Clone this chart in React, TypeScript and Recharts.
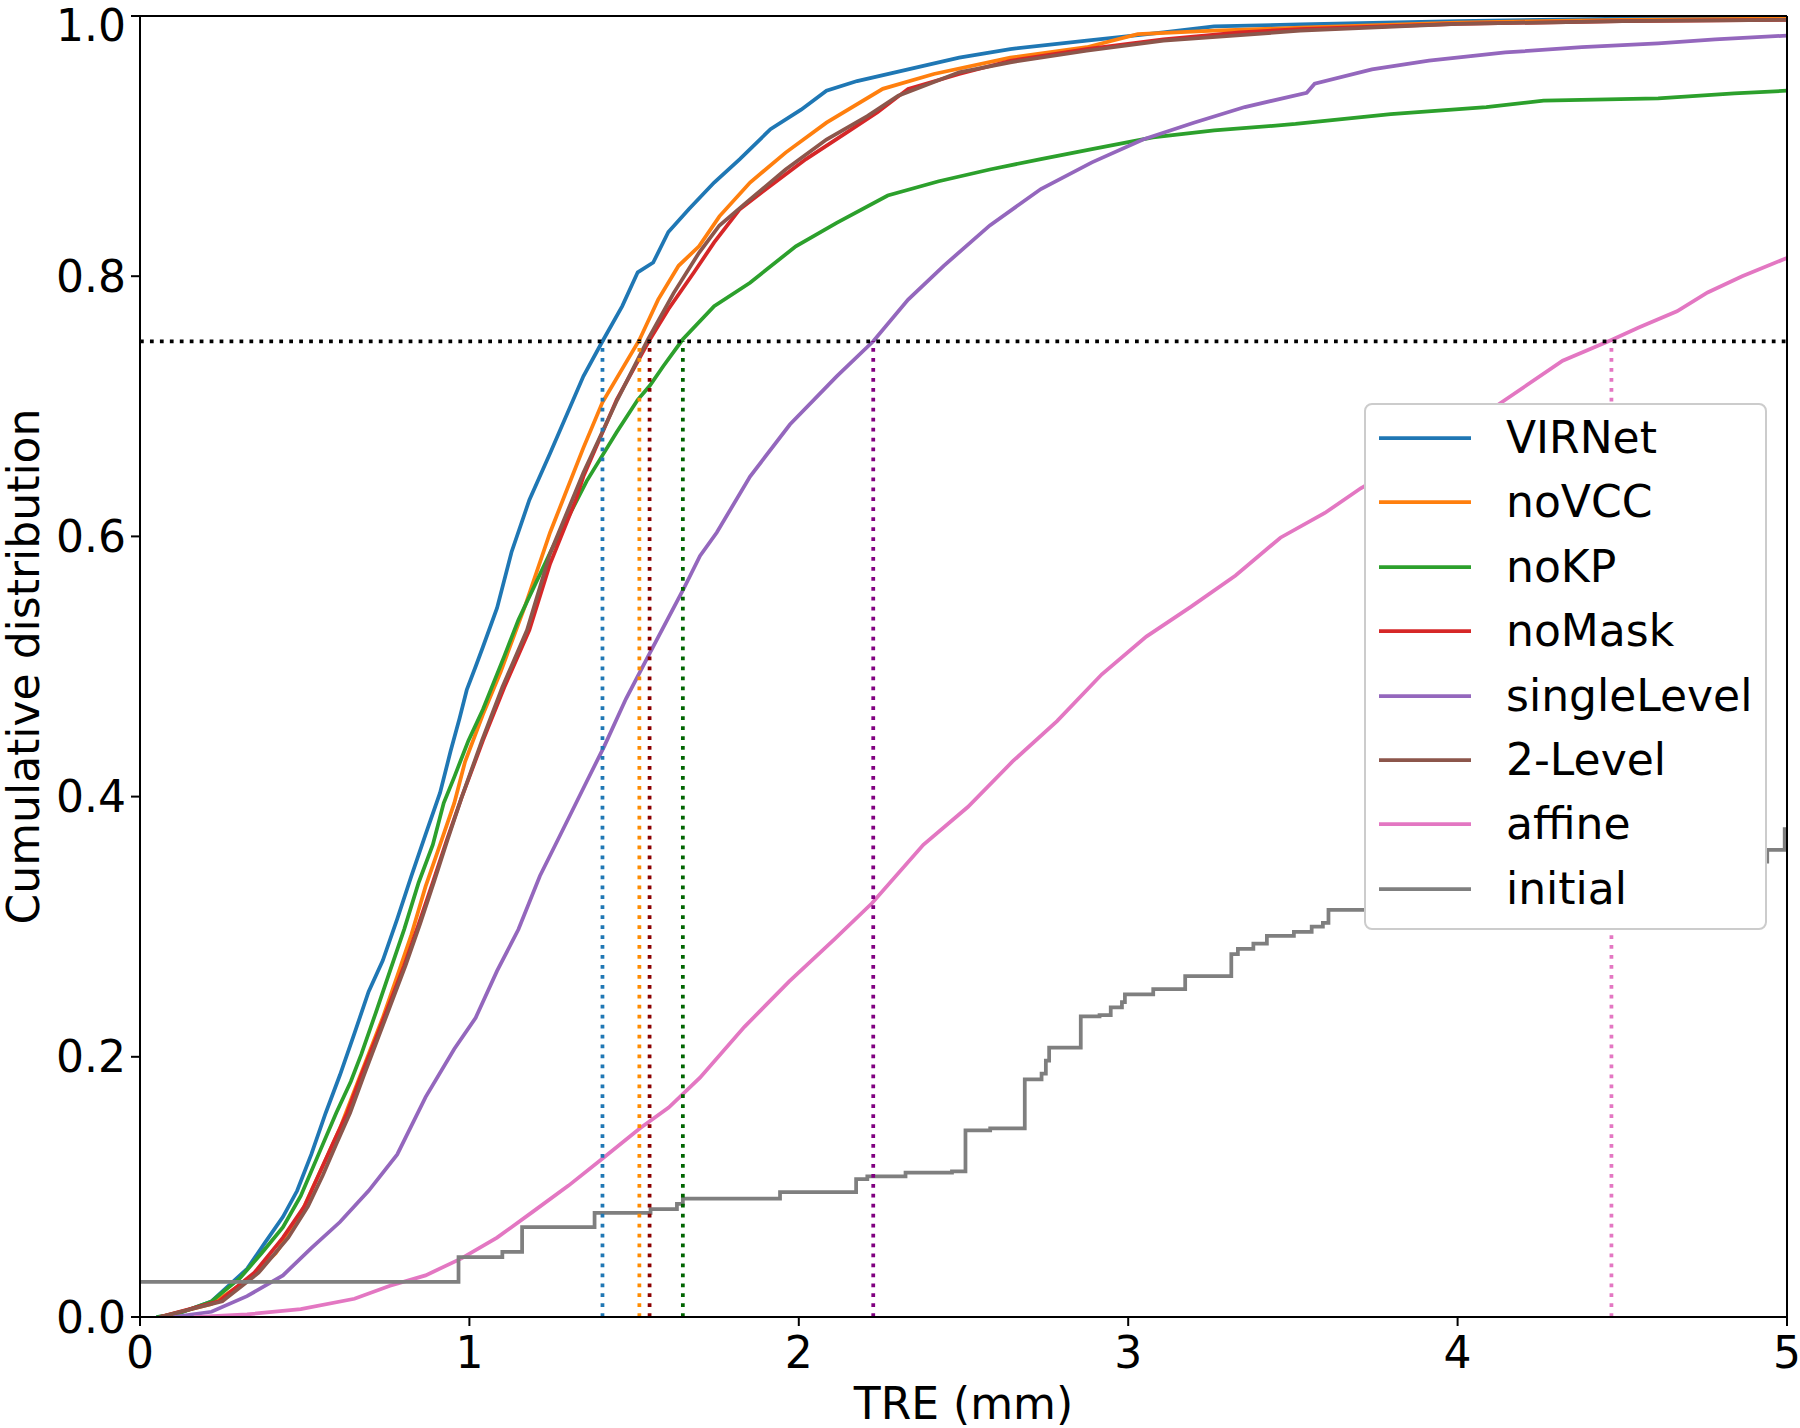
import { Label, Legend, Line, LineChart, ReferenceLine, XAxis, YAxis } from "recharts";

type Pt = [number, number];

// TRE (mm) -> cumulative fraction
const VIRNET: Pt[] = [
    [0.05, 0], [0.108, 0.002], [0.217, 0.012], [0.325, 0.037], [0.379, 0.057], [0.434, 0.077],
    [0.477, 0.097], [0.52, 0.125], [0.564, 0.157], [0.607, 0.186], [0.651, 0.218], [0.694, 0.25],
    [0.737, 0.274], [0.781, 0.306], [0.824, 0.339], [0.867, 0.371], [0.911, 0.403], [0.943, 0.435],
    [0.97, 0.46], [0.992, 0.482], [1.019, 0.5], [1.041, 0.515], [1.084, 0.545], [1.128, 0.588],
    [1.182, 0.628], [1.245, 0.664], [1.346, 0.723], [1.404, 0.75], [1.464, 0.777], [1.511, 0.803],
    [1.558, 0.8105], [1.604, 0.834], [1.666, 0.8515], [1.743, 0.872], [1.821, 0.89], [1.914, 0.913],
    [2.007, 0.928], [2.084, 0.9426], [2.177, 0.95], [2.332, 0.959], [2.487, 0.968], [2.642, 0.9746],
    [2.874, 0.981], [3.107, 0.9875], [3.261, 0.992], [3.522, 0.9935], [4.0, 0.996], [4.5, 0.998], [5.0, 0.999],
];

const NOVCC: Pt[] = [
    [0.06, 0], [0.217, 0.01], [0.325, 0.028], [0.412, 0.049], [0.477, 0.073], [0.52, 0.097],
    [0.564, 0.121], [0.607, 0.145], [0.651, 0.174], [0.694, 0.202], [0.737, 0.23], [0.781, 0.262],
    [0.824, 0.294], [0.867, 0.331], [0.911, 0.363], [0.954, 0.395], [0.987, 0.427], [1.041, 0.463],
    [1.095, 0.496], [1.171, 0.548], [1.245, 0.603], [1.29, 0.632], [1.346, 0.668], [1.404, 0.703],
    [1.516, 0.751], [1.573, 0.782], [1.635, 0.808], [1.697, 0.823], [1.759, 0.846], [1.852, 0.872],
    [1.96, 0.895], [2.084, 0.918], [2.255, 0.944], [2.41, 0.9554], [2.642, 0.968], [2.874, 0.976],
    [3.029, 0.986], [3.261, 0.9887], [3.522, 0.991], [4.0, 0.995], [4.5, 0.997], [5.0, 0.998],
];

const NOKP: Pt[] = [
    [0.05, 0], [0.108, 0.002], [0.217, 0.012], [0.304, 0.03], [0.369, 0.049], [0.434, 0.069],
    [0.488, 0.093], [0.542, 0.125], [0.596, 0.157], [0.64, 0.181], [0.672, 0.202], [0.716, 0.234],
    [0.759, 0.266], [0.802, 0.298], [0.846, 0.334], [0.889, 0.363], [0.922, 0.395], [0.954, 0.415],
    [0.997, 0.443], [1.041, 0.467], [1.106, 0.508], [1.149, 0.536], [1.25, 0.59], [1.356, 0.6425],
    [1.396, 0.659], [1.447, 0.68], [1.511, 0.705], [1.548, 0.716], [1.589, 0.731], [1.648, 0.7515],
    [1.743, 0.777], [1.852, 0.795], [1.991, 0.823], [2.115, 0.841], [2.27, 0.862], [2.425, 0.873],
    [2.58, 0.882], [2.735, 0.89], [2.89, 0.8977], [3.075, 0.9067], [3.261, 0.912], [3.508, 0.917],
    [3.797, 0.9246], [4.087, 0.93], [4.261, 0.935], [4.609, 0.9367], [4.84, 0.9405], [5.0, 0.9426],
];

const NOMASK: Pt[] = [
    [0.06, 0], [0.239, 0.012], [0.347, 0.034], [0.434, 0.061], [0.499, 0.085], [0.542, 0.109],
    [0.585, 0.133], [0.629, 0.157], [0.672, 0.186], [0.716, 0.214], [0.759, 0.242], [0.802, 0.27],
    [0.846, 0.302], [0.889, 0.334], [0.932, 0.367], [0.976, 0.399], [1.041, 0.443], [1.106, 0.484],
    [1.182, 0.528], [1.245, 0.579], [1.323, 0.628], [1.346, 0.646], [1.447, 0.705], [1.547, 0.751],
    [1.604, 0.7746], [1.682, 0.803], [1.743, 0.826], [1.821, 0.8515], [1.914, 0.8695], [2.022, 0.89],
    [2.146, 0.9105], [2.239, 0.926], [2.332, 0.944], [2.487, 0.9554], [2.642, 0.9656], [2.874, 0.9746],
    [3.107, 0.982], [3.339, 0.9875], [3.522, 0.99], [4.0, 0.994], [4.5, 0.996], [5.0, 0.997],
];

const SINGLE_LEVEL: Pt[] = [
    [0.1, 0], [0.217, 0.004], [0.325, 0.016], [0.434, 0.032], [0.52, 0.053], [0.607, 0.073],
    [0.694, 0.097], [0.781, 0.125], [0.867, 0.169], [0.954, 0.206], [1.019, 0.23], [1.084, 0.266],
    [1.149, 0.298], [1.214, 0.339], [1.269, 0.367], [1.355, 0.411], [1.41, 0.439], [1.475, 0.475],
    [1.548, 0.5105], [1.649, 0.559], [1.7, 0.585], [1.751, 0.603], [1.852, 0.646], [1.973, 0.686],
    [2.115, 0.723], [2.226, 0.75], [2.332, 0.782], [2.44, 0.808], [2.58, 0.839], [2.735, 0.867],
    [2.89, 0.8875], [3.045, 0.905], [3.199, 0.918], [3.354, 0.93], [3.542, 0.941], [3.566, 0.948],
    [3.74, 0.959], [3.913, 0.9657], [4.145, 0.972], [4.377, 0.976], [4.609, 0.979], [4.782, 0.982], [5.0, 0.985],
];

const TWO_LEVEL: Pt[] = [
    [0.06, 0], [0.25, 0.012], [0.36, 0.034], [0.45, 0.061], [0.51, 0.085], [0.555, 0.109],
    [0.596, 0.133], [0.638, 0.157], [0.68, 0.186], [0.722, 0.214], [0.764, 0.242], [0.806, 0.27],
    [0.85, 0.302], [0.892, 0.334], [0.934, 0.367], [0.976, 0.399], [1.038, 0.443], [1.1, 0.484],
    [1.175, 0.528], [1.245, 0.587], [1.312, 0.628], [1.346, 0.649], [1.449, 0.705], [1.542, 0.7515],
    [1.62, 0.787], [1.697, 0.818], [1.759, 0.839], [1.852, 0.859], [1.96, 0.882], [2.084, 0.905],
    [2.208, 0.923], [2.302, 0.9387], [2.487, 0.9567], [2.642, 0.9644], [2.874, 0.9733], [3.107, 0.981],
    [3.522, 0.9887], [4.0, 0.994], [4.5, 0.996], [5.0, 0.997],
];

const AFFINE: Pt[] = [
    [0.163, 0], [0.325, 0.002], [0.488, 0.006], [0.651, 0.014], [0.759, 0.024], [0.867, 0.032],
    [0.976, 0.045], [1.084, 0.061], [1.193, 0.081], [1.301, 0.101], [1.41, 0.123], [1.518, 0.145],
    [1.605, 0.161], [1.7, 0.184], [1.835, 0.223], [1.971, 0.258], [2.107, 0.29], [2.222, 0.318],
    [2.378, 0.363], [2.513, 0.392], [2.649, 0.427], [2.784, 0.458], [2.92, 0.494], [3.055, 0.523],
    [3.191, 0.546], [3.326, 0.57], [3.462, 0.599], [3.597, 0.618], [3.706, 0.637], [3.9, 0.665],
    [4.0, 0.68], [4.145, 0.705], [4.319, 0.735], [4.467, 0.751], [4.55, 0.7605], [4.666, 0.773],
    [4.759, 0.7875], [4.864, 0.8], [5.0, 0.814],
];

// step function: each point starts a new level
const INITIAL: Pt[] = [
    [0, 0.027], [0.967, 0.046], [1.1, 0.05], [1.16, 0.069], [1.38, 0.08], [1.55, 0.083],
    [1.63, 0.087], [1.648, 0.091], [1.943, 0.096], [2.174, 0.106], [2.208, 0.108], [2.324, 0.111],
    [2.465, 0.112], [2.506, 0.1435], [2.581, 0.145], [2.686, 0.1826], [2.737, 0.187], [2.75, 0.197],
    [2.76, 0.207], [2.856, 0.231], [2.913, 0.232], [2.947, 0.238], [2.981, 0.242], [2.99, 0.248],
    [3.076, 0.252], [3.173, 0.262], [3.313, 0.279], [3.333, 0.283], [3.38, 0.287], [3.421, 0.293],
    [3.503, 0.296], [3.557, 0.3], [3.591, 0.303], [3.608, 0.313], [3.85, 0.32], [4.1, 0.33],
    [4.4, 0.34], [4.7, 0.35], [4.94, 0.359], [4.993, 0.375], [5.0, 0.375],
];

const SERIES = [
    {name: "VIRNet", color: "#1f77b4", pts: VIRNET},
    {name: "noVCC", color: "#ff7f0e", pts: NOVCC},
    {name: "noKP", color: "#2ca02c", pts: NOKP},
    {name: "noMask", color: "#d62728", pts: NOMASK},
    {name: "singleLevel", color: "#9467bd", pts: SINGLE_LEVEL},
    {name: "2-Level", color: "#8c564b", pts: TWO_LEVEL},
    {name: "affine", color: "#e377c2", pts: AFFINE},
    {name: "initial", color: "#7f7f7f", pts: INITIAL, step: true},
];

// where each method reaches the 75 % level
const LEVEL = 0.75;
const CROSS_X = [1.404, 1.516, 1.547, 1.648, 2.226, 4.467];
const CROSS_COLORS = ["#1f77b4", "#ff8c00", "#8b0000", "#006400", "#800080", "#e377c2"];

const X_TICKS = [0, 1, 2, 3, 4, 5];
const Y_TICKS = [0, 0.2, 0.4, 0.6, 0.8, 1.0];

const FONT = "DejaVu Sans";
const LW = 3.75;
const DOTS = "3.75 6.2";

function LegendBox() {
    return (
        <div style={{
            boxSizing: "border-box", width: 403, height: 527, position: "relative",
            border: "2px solid #cccccc", borderRadius: 8, background: "#fff",
            fontFamily: FONT, fontSize: 44, color: "#000",
        }}>
            {SERIES.map((s, i) => (
                <div key={s.name} style={{
                    position: "absolute", left: 0, top: 33 + 64.4 * i - 32, height: 64,
                    display: "flex", alignItems: "center", whiteSpace: "nowrap",
                }}>
                    <svg width={140} height={64} style={{display: "block"}}>
                        <line x1={13} x2={105} y1={32} y2={32} stroke={s.color} strokeWidth={LW}/>
                    </svg>
                    <span style={{lineHeight: 1}}>{s.name}</span>
                </div>
            ))}
        </div>
    );
}

export default function App() {
    const tickStyle = {fill: "#000", fontSize: 44, fontFamily: FONT};
    return (
        <div style={{position: "absolute", left: 0, top: 0, background: "#fff"}}>
            <LineChart width={1800} height={1428} margin={{top: 16, right: 13, bottom: 0, left: 0}}>
                <XAxis type="number" dataKey="x" domain={[0, 5]} ticks={X_TICKS} allowDataOverflow
                       height={111} tickSize={9} tickMargin={11} tick={tickStyle}
                       axisLine={{stroke: "#000", strokeWidth: 2}} tickLine={{stroke: "#000", strokeWidth: 2}}>
                    <Label content={(p: any) => {
                        const vb = p.viewBox ?? {x: 140, y: 1317, width: 1647};
                        return <text x={vb.x + vb.width / 2} y={vb.y + 102} textAnchor="middle"
                                     fontSize={44} fontFamily={FONT} fill="#000">TRE (mm)</text>;
                    }}/>
                </XAxis>
                <YAxis type="number" dataKey="y" domain={[0, 1]} ticks={Y_TICKS} allowDataOverflow
                       width={140} tickSize={9} tickMargin={5} tick={tickStyle}
                       tickFormatter={(v: number) => v.toFixed(1)}
                       axisLine={{stroke: "#000", strokeWidth: 2}} tickLine={{stroke: "#000", strokeWidth: 2}}>
                    <Label content={(p: any) => {
                        const vb = p.viewBox ?? {x: 0, y: 16, height: 1301};
                        const cx = vb.x + 39;
                        const cy = vb.y + vb.height / 2;
                        return <text x={cx} y={cy} transform={`rotate(-90 ${cx} ${cy})`} textAnchor="middle"
                                     fontSize={44} fontFamily={FONT} fill="#000">Cumulative distribution</text>;
                    }}/>
                </YAxis>

                {SERIES.map(s => (
                    <Line key={s.name} name={s.name} data={s.pts.map(([x, y]) => ({x, y}))}
                          dataKey="y" type={s.step ? "stepAfter" : "linear"} stroke={s.color}
                          strokeWidth={LW} dot={false} activeDot={false} isAnimationActive={false}/>
                ))}

                <ReferenceLine y={LEVEL} stroke="#000" strokeWidth={LW} strokeDasharray={DOTS}/>
                {CROSS_X.map((x, i) => (
                    <ReferenceLine key={x} segment={[{x, y: 0}, {x, y: LEVEL}]}
                                   stroke={CROSS_COLORS[i]} strokeWidth={LW} strokeDasharray={DOTS}/>
                ))}

                {/* top and right spines */}
                <ReferenceLine y={1} stroke="#000" strokeWidth={2}/>
                <ReferenceLine x={5} stroke="#000" strokeWidth={2}/>

                <Legend layout="horizontal" verticalAlign="middle" align="center"
                        wrapperStyle={{left: 1364, top: 403, width: 403, height: 527}}
                        content={() => <LegendBox/>}/>
            </LineChart>
        </div>
    );
}
